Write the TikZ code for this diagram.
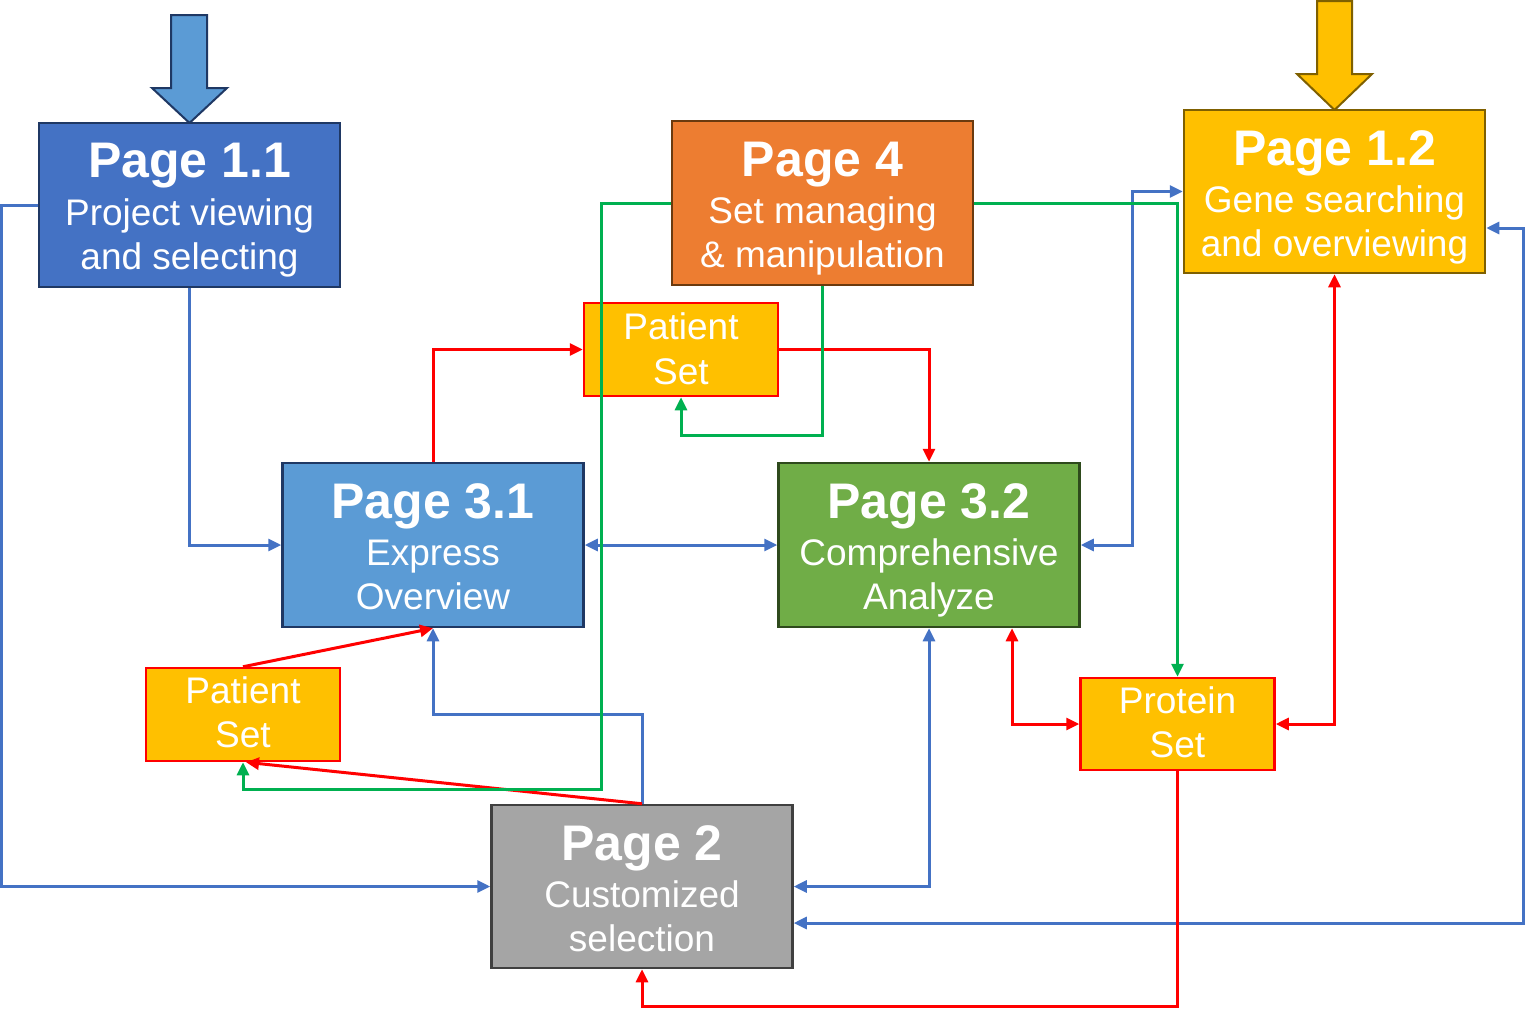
\documentclass[tikz,border=0pt]{standalone}
\usepackage{fontspec}
\setmainfont{Liberation Sans}
\usetikzlibrary{arrows.meta,calc}
\definecolor{cBA}{HTML}{4472C4}
\definecolor{cBB}{HTML}{5B9BD5}
\definecolor{cBD}{HTML}{1F3864}
\definecolor{cOr}{HTML}{ED7D31}
\definecolor{cOrD}{HTML}{6B3A0E}
\definecolor{cYe}{HTML}{FFC000}
\definecolor{cYeD}{HTML}{7F6000}
\definecolor{cGr}{HTML}{70AD47}
\definecolor{cGrD}{HTML}{2E4A1C}
\definecolor{cGy}{HTML}{A5A5A5}
\definecolor{cGyD}{HTML}{404040}
\definecolor{lBlue}{HTML}{4472C4}
\definecolor{lRed}{HTML}{FF0000}
\definecolor{lGreen}{HTML}{00B050}
\begin{document}
\begin{tikzpicture}[x=1pt,y=-1pt,
  pagebox/.style={draw, line width=2.5pt, minimum width=301pt, minimum height=164pt, inner sep=0pt},
  setbox/.style={draw=lRed, fill=cYe, line width=2.5pt, minimum width=194pt, minimum height=93pt, inner sep=0pt},
  ttl/.style={text=white, font=\fontsize{50}{50}\selectfont\bfseries, anchor=base, inner sep=0pt},
  sub/.style={text=white, font=\fontsize{37}{37}\selectfont, anchor=base, inner sep=0pt},
  conn/.style={line width=3pt, -{Triangle[length=13pt,width=12pt]}},
  dconn/.style={line width=3pt, {Triangle[length=13pt,width=12pt]}-{Triangle[length=13pt,width=12pt]}},
  blockarrow/.style={line width=2pt, line join=miter}
  ]
\useasboundingbox (0,0) rectangle (1526,1009);

% block arrows
\draw[blockarrow, draw=cBD, fill=cBB] (171,15) -- (207,15) -- (207,88) -- (227,88) -- (189.5,123) -- (152,88) -- (171,88) -- cycle;
\draw[blockarrow, draw=cYeD, fill=cYe] (1317,1) -- (1352,1) -- (1352,74) -- (1372,74) -- (1334.5,110) -- (1297,74) -- (1317,74) -- cycle;

% boxes
\node[pagebox, fill=cBA, draw=cBD] (p11) at (189.5,205) {};
\node[pagebox, fill=cOr, draw=cOrD] (p4) at (822.5,203) {};
\node[pagebox, fill=cYe, draw=cYeD, minimum height=163pt] (p12) at (1334.5,191.5) {};
\node[pagebox, fill=cBB, draw=cBD] (p31) at (433,545) {};
\node[pagebox, fill=cGr, draw=cGrD] (p32) at (929,545) {};
\node[pagebox, fill=cGy, draw=cGyD, minimum height=163pt] (p2) at (642,886.5) {};
\node[setbox] (ps1) at (681,349.5) {};
\node[setbox] (ps2) at (243,714.5) {};
\node[setbox, minimum height=92pt] (prot) at (1177.5,724) {};

% blue connectors
\draw[conn, lBlue] (p11.south) |- (p31.west);
\draw[conn, lBlue] (p11.west) -- ++(-36,0) |- (p2.west);
\draw[dconn, lBlue] (p31.east) -- (p32.west);
\draw[dconn, lBlue] (p32.east) -- ++(52,0) |- (p12.west);
\draw[conn, lBlue] (p2.north) -- ++(0,-89) -| (p31.south);
\draw[dconn, lBlue] (p2.east) -| (p32.south);
\draw[dconn, lBlue] ($(p2.east)+(0,36.5)$) -- ++(730,0) |- ($(p12.east)+(0,36.5)$);

% red connectors
\draw[conn, lRed] (p31.north) |- (ps1.west);
\draw[conn, lRed] (ps1.east) -| (p32.north);
\draw[conn, lRed] (ps2.north) -- (p31.south);
\draw[conn, lRed] (p2.north) -- ($(ps2.south)+(3,0)$);
\draw[dconn, lRed] ($(p32.south)+(83,0)$) |- (prot.west);
\draw[dconn, lRed] (p12.south) |- (prot.east);
\draw[conn, lRed] (prot.south) -- ++(0,235) -| (p2.south);

% green connectors
\draw[conn, lGreen] (p4.west) -- ++(-69,0) -- ++(0,586) -| (ps2.south);
\draw[conn, lGreen] (p4.south) -- ++(0,149) -| (ps1.south);
\draw[conn, lGreen] (p4.east) -| (prot.north);

% texts
\node[ttl] (t11) at ($(p11.north)+(0,56)$) {Page 1.1};
\node[sub] (s11a) at ($(p11.north)+(0,104)$) {Project viewing};
\node[sub] (s11b) at ($(p11.north)+(0,148)$) {and selecting};

\node[ttl] (t4) at ($(p4.north)+(0,57)$) {Page 4};
\node[sub] (s4a) at ($(p4.north)+(0,104)$) {Set managing};
\node[sub] (s4b) at ($(p4.north)+(0,148)$) {\& manipulation};

\node[ttl] (t12) at ($(p12.north)+(0,57)$) {Page 1.2};
\node[sub] (s12a) at ($(p12.north)+(0,104)$) {Gene searching};
\node[sub] (s12b) at ($(p12.north)+(0,148)$) {and overviewing};

\node[ttl] (t31) at ($(p31.north)+(0,57)$) {Page 3.1};
\node[sub] (s31a) at ($(p31.north)+(0,104)$) {Express};
\node[sub] (s31b) at ($(p31.north)+(0,148)$) {Overview};

\node[ttl] (t32) at ($(p32.north)+(0,57)$) {Page 3.2};
\node[sub] (s32a) at ($(p32.north)+(0,104)$) {Comprehensive};
\node[sub] (s32b) at ($(p32.north)+(0,148)$) {Analyze};

\node[ttl] (t2) at ($(p2.north)+(0,57)$) {Page 2};
\node[sub] (s2a) at ($(p2.north)+(0,104)$) {Customized};
\node[sub] (s2b) at ($(p2.north)+(0,148)$) {selection};

\node[sub] (ps1a) at ($(ps1.north)+(0,38)$) {Patient};
\node[sub] (ps1b) at ($(ps1.north)+(0,83)$) {Set};
\node[sub] (ps2a) at ($(ps2.north)+(0,37)$) {Patient};
\node[sub] (ps2b) at ($(ps2.north)+(0,81)$) {Set};
\node[sub] (pra) at ($(prot.north)+(0,37)$) {Protein};
\node[sub] (prb) at ($(prot.north)+(0,81)$) {Set};
\end{tikzpicture}
\end{document}
